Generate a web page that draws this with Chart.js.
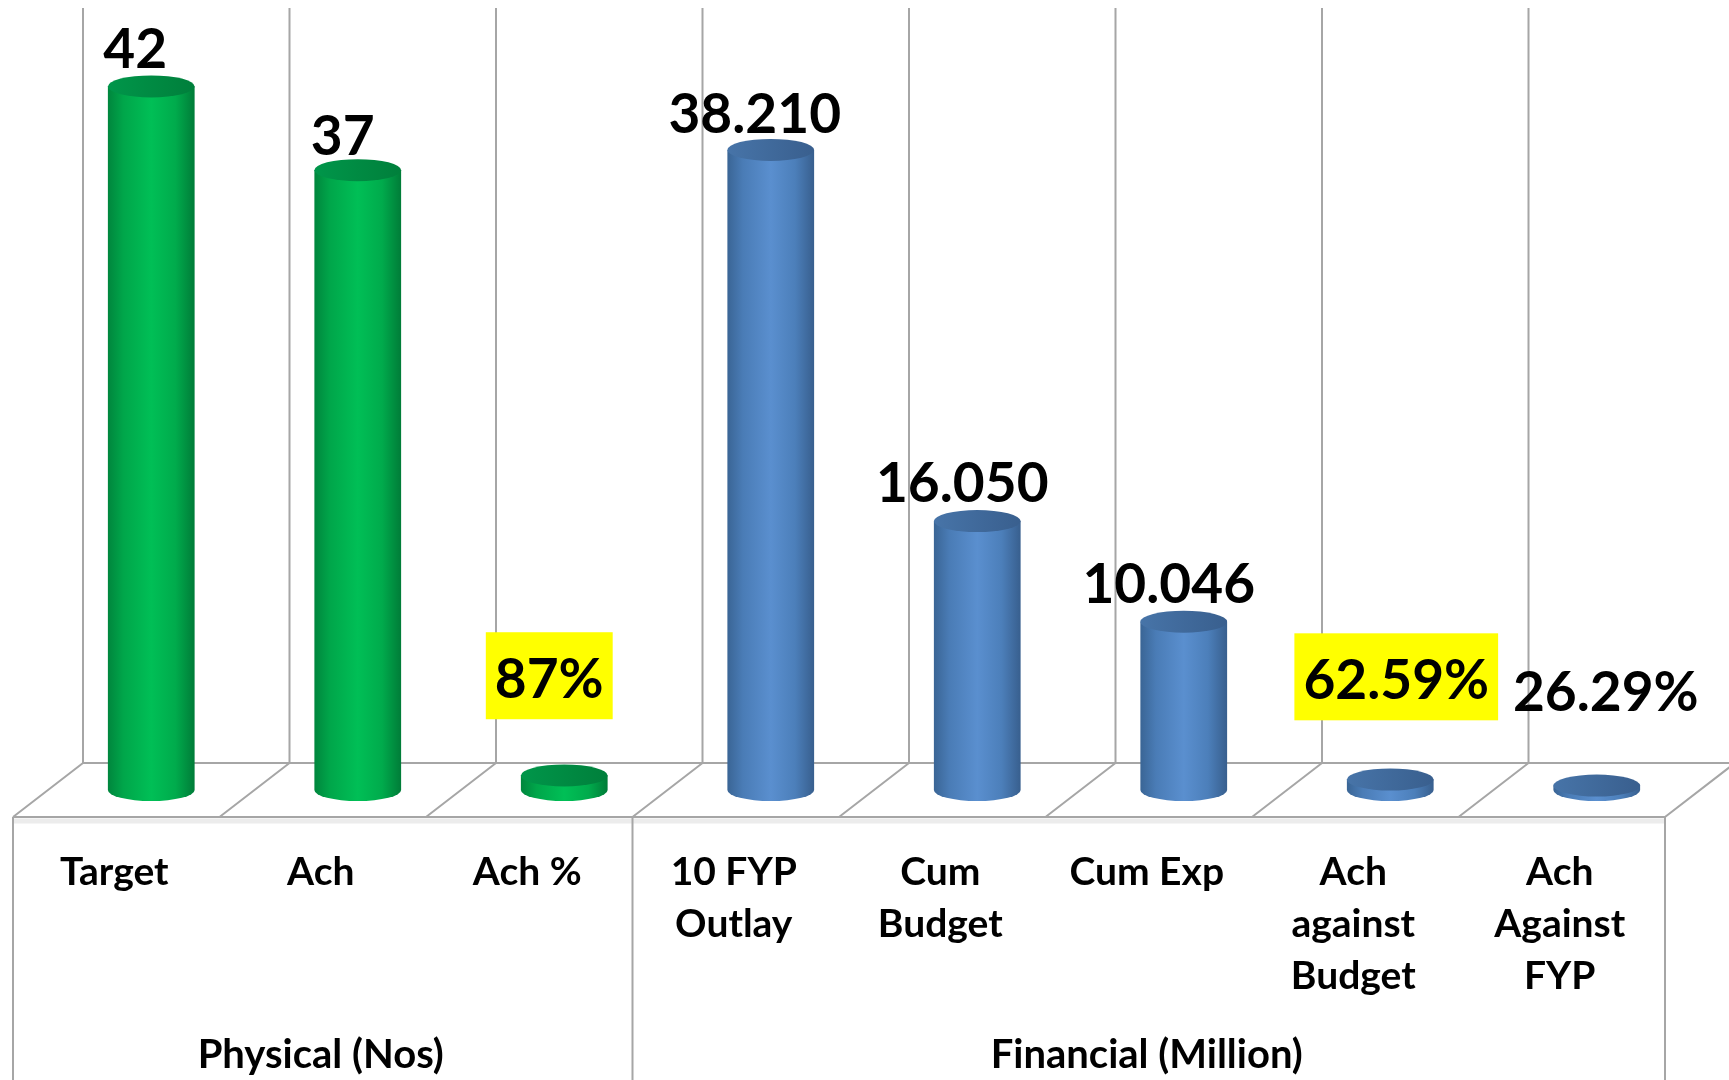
<!DOCTYPE html>
<html><head><meta charset="utf-8">
<script src="https://cdn.jsdelivr.net/npm/chart.js@4.4.1/dist/chart.umd.min.js"></script>
<style>html,body{margin:0;padding:0;background:#fff;overflow:hidden}canvas{display:block}</style>
</head><body>
<canvas id="c" width="1729" height="1080"></canvas>
<script>
// ---- data ----
const categories = [['Target'], ['Ach'], ['Ach %'], ['10 FYP', 'Outlay'], ['Cum', 'Budget'], ['Cum Exp'], ['Ach', 'against', 'Budget'], ['Ach', 'Against', 'FYP']];
const groupLabels = ['', 'Physical (Nos)', '', '', '', 'Financial (Million)', '', ''];
const barGroup = [0, 0, 0, 1, 1, 1, 1, 1];
const values = [42, 37, 0.87, 38.21, 16.05, 10.046, 0.6259, 0.2629];
const valueFormats = ['int', 'int', 'pct0', 'dec3', 'dec3', 'dec3', 'pct2', 'pct2'];
const highlighted = [false, false, true, false, false, false, true, false];

// ---- styles ----
const FONT = "Lato, 'Open Sans', 'DejaVu Sans', sans-serif";
const palettes = [
  { stops: ['#00863d', '#00a64a', '#00bf56', '#00ab4c', '#007c38'], top: ['#00964a', '#007f3b'] },
  { stops: ['#3a6595', '#4a7cb6', '#5a8fcf', '#4c7fba', '#385f8e'], top: ['#4774a8', '#395f8e'] }
];
const labelDX = [-16, -15, -15, -16, -15, -15, 6, 9];
const labelDY = [-38, -35, -97, -37, -39, -39, -100, -94];
const depth = { dx: 70, dy: 54 };
const ellRy = 11;
const barPct = 0.42;

function fmt(v, f) {
  if (f === 'int') return String(Math.round(v));
  if (f === 'pct0') return Math.round(v * 100) + '%';
  if (f === 'dec3') return v.toFixed(3);
  if (f === 'pct2') return (v * 100).toFixed(2) + '%';
  return String(v);
}

function barFill(c) {
  const chart = c.chart;
  const g = barGroup[c.dataIndex];
  const pal = palettes[g];
  if (!chart.chartArea || !chart.scales.x) return pal.stops[2];
  const xs = chart.scales.x;
  const cx = xs.getPixelForValue(c.dataIndex);
  const w = xs.width / categories.length * barPct;
  const grad = chart.ctx.createLinearGradient(cx - w / 2, 0, cx + w / 2, 0);
  const pos = [0, 0.18, 0.5, 0.78, 1];
  pal.stops.forEach((s, i) => grad.addColorStop(pos[i], s));
  return grad;
}

const scene3d = {
  id: 'scene3d',
  beforeDatasetsDraw(chart) {
    const { ctx, chartArea: a, scales: { x } } = chart;
    const n = categories.length, slot = x.width / n;
    const yBack = a.bottom - depth.dy / 2, yFront = a.bottom + depth.dy / 2;
    const bx = k => a.left + depth.dx / 2 + k * slot;
    const fx = k => a.left - depth.dx / 2 + k * slot;
    ctx.save();
    ctx.strokeStyle = '#ececec'; ctx.lineWidth = 5;
    ctx.beginPath(); ctx.moveTo(fx(0), yFront + 4); ctx.lineTo(fx(n), yFront + 4); ctx.stroke();
    ctx.strokeStyle = '#a6a6a6'; ctx.lineWidth = 2;
    ctx.beginPath();
    for (let k = 0; k <= n; k++) {
      ctx.moveTo(bx(k), a.top - 3); ctx.lineTo(bx(k), yBack);
      ctx.moveTo(fx(k), yFront); ctx.lineTo(bx(k), yBack);
    }
    ctx.moveTo(bx(0), yBack); ctx.lineTo(chart.width + 5, yBack);
    ctx.moveTo(fx(0), yFront); ctx.lineTo(fx(n), yFront);
    const dividers = [0, n];
    for (let i = 1; i < n; i++) if (barGroup[i] !== barGroup[i - 1]) dividers.push(i);
    dividers.forEach(k => { ctx.moveTo(fx(k), yFront); ctx.lineTo(fx(k), chart.height + 2); });
    ctx.stroke();
    ctx.restore();
  },
  afterDatasetsDraw(chart) {
    const { ctx } = chart;
    const meta = chart.getDatasetMeta(0);
    ctx.save();
    meta.data.forEach((el, i) => {
      const p = el.getProps(['x', 'y', 'base', 'width'], true);
      const rx = p.width / 2;
      ctx.beginPath();
      ctx.ellipse(p.x, p.base, rx, ellRy, 0, 0, Math.PI);
      ctx.closePath();
      ctx.fillStyle = el.options.backgroundColor;
      ctx.fill();
      const pal = palettes[barGroup[i]];
      const tg = ctx.createLinearGradient(p.x - rx, 0, p.x + rx, 0);
      tg.addColorStop(0, pal.top[0]); tg.addColorStop(1, pal.top[1]);
      ctx.beginPath();
      ctx.ellipse(p.x, p.y, rx, ellRy, 0, 0, Math.PI * 2);
      ctx.fillStyle = tg;
      ctx.fill();
    });
    const size = 55, capH = 0.72 * size;
    ctx.font = 'bold ' + size + 'px ' + FONT;
    ctx.textAlign = 'center';
    ctx.textBaseline = 'alphabetic';
    meta.data.forEach((el, i) => {
      const p = el.getProps(['x', 'y'], true);
      const txt = fmt(values[i], valueFormats[i]);
      const cx = p.x + labelDX[i];
      const baseline = p.y + labelDY[i] + capH / 2;
      if (highlighted[i]) {
        const w = ctx.measureText(txt).width;
        ctx.fillStyle = '#ffff00';
        ctx.fillRect(cx - w / 2 - 9, baseline - 66, w + 18, 87);
      }
      ctx.fillStyle = '#000';
      ctx.fillText(txt, cx, baseline);
    });
    ctx.restore();
  }
};

new Chart(document.getElementById('c'), {
  type: 'bar',
  data: {
    labels: categories,
    datasets: [{
      data: values,
      backgroundColor: barFill,
      borderWidth: 0,
      barPercentage: barPct,
      categoryPercentage: 1
    }]
  },
  options: {
    responsive: false,
    devicePixelRatio: 1,
    animation: false,
    layout: { padding: { left: 48, right: 29, top: 11, bottom: 0 } },
    plugins: { legend: { display: false }, tooltip: { enabled: false } },
    scales: {
      y: { display: false, min: 0, max: 46.5 },
      x: {
        position: 'bottom', weight: 0, offset: true,
        grid: { display: false, drawTicks: false }, border: { display: false },
        ticks: {
          autoSkip: false, maxRotation: 0, minRotation: 0,
          color: '#000', font: { family: FONT, size: 39, weight: 'bold', lineHeight: 52 / 39 },
          padding: 56, labelOffset: -depth.dx / 2 - 2
        },
        afterFit: s => { s.height = 232; }
      },
      xg: {
        type: 'category', labels: groupLabels,
        position: 'bottom', weight: 1, offset: true,
        grid: { display: false, drawTicks: false }, border: { display: false },
        ticks: {
          autoSkip: false, maxRotation: 0, minRotation: 0,
          color: '#000', font: { family: FONT, size: 40, weight: 'bold', lineHeight: 1.2 },
          padding: 9, labelOffset: -depth.dx / 2 - 2
        },
        afterFit: s => { s.height = 58; }
      }
    }
  },
  plugins: [scene3d]
});
</script>
</body></html>
